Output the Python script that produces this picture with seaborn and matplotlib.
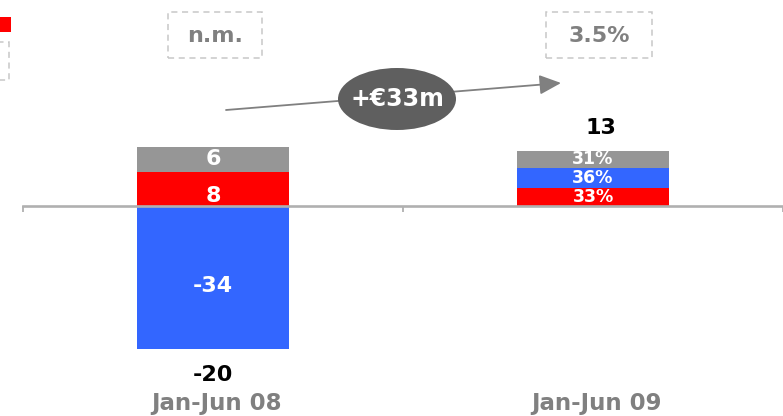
import numpy as np
import pandas as pd
import seaborn as sns
import matplotlib
matplotlib.use("Agg")
import matplotlib.pyplot as plt
from matplotlib.patches import Ellipse, Rectangle

# ---- data -------------------------------------------------------------
periods = ["Jan-Jun 08", "Jan-Jun 09"]
red_vals = [8.0, 13 * 0.33]
blue_vals = [-34.0, 13 * 0.36]
gray_vals = [6.0, 13 * 0.31]
totals = [-20, 13]
seg_labels_08 = ["8", "-34", "6"]          # red, blue, gray
share_labels_09 = ["33%", "36%", "31%"]    # red, blue, gray
margin_labels = ["n.m.", "3.5%"]
delta_label = "+€33m"

RED = "#FF0000"
BLUE = "#3366FF"
GRAY = "#969696"
TXT_GRAY = "#808080"

sns.set_theme(style="white")
plt.rcParams["font.family"] = ["DejaVu Sans"]

fig = plt.figure(figsize=(7.83, 4.16), dpi=100)
ax = fig.add_axes([0, 0, 1, 1])

df = pd.DataFrame({"period": periods, "red": red_vals,
                   "blue": blue_vals, "gray": gray_vals})

# stacking: positive parts pile up from zero, negative parts hang below
red_bottom = np.zeros(len(periods))
blue_pos = np.clip(df["blue"].values, 0, None)
blue_bottom = np.where(df["blue"].values >= 0, df["red"].values, 0.0)
gray_bottom = df["red"].values + blue_pos

bar_w = 0.40
sns.barplot(data=df, x="period", y="red", color=RED, width=bar_w,
            bottom=red_bottom, saturation=1, ax=ax, linewidth=0)
sns.barplot(data=df, x="period", y="blue", color=BLUE, width=bar_w,
            bottom=blue_bottom, saturation=1, ax=ax, linewidth=0)
sns.barplot(data=df, x="period", y="gray", color=GRAY, width=bar_w,
            bottom=gray_bottom, saturation=1, ax=ax, linewidth=0)

ax.set_xlim(-0.561, 1.483)
ax.set_ylim(-50.0, 48.9)
ax.set_xlabel("")
ax.set_ylabel("")
ax.set_yticks([])
ax.set_xticks([-0.5, 0.5, 1.5])
ax.set_xticklabels([])
for s in ["top", "left", "right"]:
    ax.spines[s].set_visible(False)
ax.spines["bottom"].set_position(("data", 0))
ax.spines["bottom"].set_bounds(-0.5, 1.5)
ax.spines["bottom"].set_color("#B0B0B0")
ax.spines["bottom"].set_linewidth(1.9)
ax.spines["bottom"].set_zorder(5)
ax.tick_params(axis="x", bottom=True, direction="out", length=4.5,
               width=1.3, color="#B0B0B0")

bold = dict(fontweight="bold")

# segment labels, first period
reds, blues, grays = df["red"].values, df["blue"].values, df["gray"].values
ax.text(0, red_bottom[0] + reds[0] / 2 - 1.8, seg_labels_08[0], ha="center",
        va="center", color="white", fontsize=16, zorder=6, **bold)
ax.text(0, blues[0] / 2 - 2.0, seg_labels_08[1], ha="center", va="center",
        color="white", fontsize=16, zorder=6, **bold)
ax.text(0, gray_bottom[0] + grays[0] / 2, seg_labels_08[2], ha="center",
        va="center", color="white", fontsize=16, zorder=6, **bold)

# share labels, second period
for bot, val, lab in [(red_bottom[1], reds[1], share_labels_09[0]),
                      (blue_bottom[1], blues[1], share_labels_09[1]),
                      (gray_bottom[1], grays[1], share_labels_09[2])]:
    ax.text(1, bot + val / 2, lab, ha="center", va="center", color="white",
            fontsize=12.5, zorder=6, **bold)

# totals
ax.text(0, blues[0] - 6.2, str(totals[0]), ha="center", va="center",
        color="black", fontsize=16, **bold)
ax.text(1.02, gray_bottom[1] + grays[1] + 5.5, str(totals[1]), ha="center",
        va="center", color="black", fontsize=16, **bold)

# period names
trans = ax.get_xaxis_transform()
for i, p in enumerate(periods):
    ax.text(i + 0.01, 0.029, p, transform=trans, ha="center", va="center",
            color=TXT_GRAY, fontsize=16.5, **bold)

# margin boxes
W, H = 783.0, 416.0


def px_box(x0, y0, x1, y1):
    return Rectangle((x0 / W, 1 - y1 / H), (x1 - x0) / W, (y1 - y0) / H,
                     transform=ax.transAxes, fill=False, edgecolor="#C8C8C8",
                     linestyle=(0, (4, 3)), linewidth=1.1, clip_on=False)


for (x0, x1), lab in zip([(168, 262), (546, 652)], margin_labels):
    ax.add_patch(px_box(x0, 12, x1, 58))
    ax.text((x0 + x1) / 2 / W, 1 - 36 / H, lab, transform=ax.transAxes,
            ha="center", va="center", color=TXT_GRAY, fontsize=16, **bold)

# legend fragments at the left edge
ax.add_patch(px_box(-40, 42, 9, 80))
ax.add_patch(Rectangle((0, 1 - 32 / H), 11 / W, 15 / H, transform=ax.transAxes,
                       color=RED, linewidth=0, clip_on=False))

# growth arrow and bubble
ax.annotate("", xy=(561 / W, 1 - 83 / H), xytext=(226 / W, 1 - 110 / H),
            xycoords="axes fraction", textcoords="axes fraction",
            arrowprops=dict(arrowstyle="-|>,head_length=1.1,head_width=0.5",
                            color="#808080", lw=1.3, shrinkA=0, shrinkB=0))
ax.add_patch(Ellipse((397 / W, 1 - 99 / H), 118 / W, 62 / H,
                     transform=ax.transAxes, facecolor="#5F5F5F",
                     edgecolor="none", zorder=7))
ax.text(397 / W, 1 - 99 / H, delta_label, transform=ax.transAxes,
        ha="center", va="center", color="white", fontsize=17, zorder=8,
        **bold)

fig.savefig("out.png", dpi=100)
